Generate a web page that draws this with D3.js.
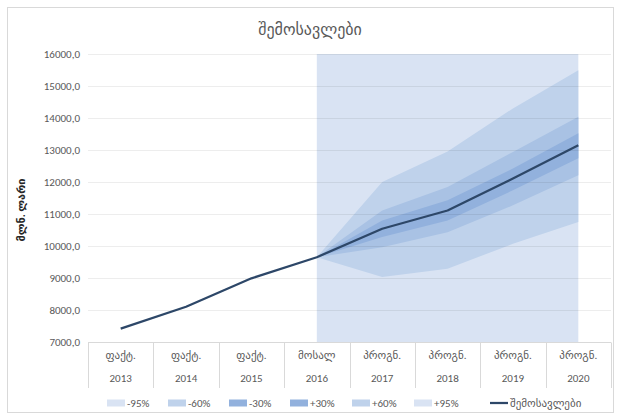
<!DOCTYPE html>
<html>
<head>
<meta charset="utf-8">
<script src="https://cdn.jsdelivr.net/npm/d3@7"></script>
<style>
  body { margin: 0; background: #fff; }
  svg { font-family: Calibri, Carlito, "DejaVu Sans", sans-serif; }
</style>
</head>
<body>
<div id="chart"></div>
<script>
'use strict';

const years = ["2013", "2014", "2015", "2016", "2017", "2018", "2019", "2020"];
const stages = ["ფაქტ.", "ფაქტ.", "ფაქტ.", "მოსალ", "პროგნ.", "პროგნ.", "პროგნ.", "პროგნ."];
const revenue = [7420, 8100, 8990, 9650, 10540, 11110, 12110, 13145];

// fan bounds, 2016 .. 2020
const fanYears = ["2016", "2017", "2018", "2019", "2020"];
const lower95 = [9650, 9030, 9290, 10070, 10750];
const lower60 = [9650, 9960, 10430, 11270, 12210];
const lower30 = [9650, 10280, 10800, 11740, 12740];
const upper30 = [9650, 10800, 11430, 12420, 13520];
const upper60 = [9650, 11110, 11840, 12940, 14040];
const upper95 = [9650, 12000, 12950, 14300, 15490];

const yTicks = [7000, 8000, 9000, 10000, 11000, 12000, 13000, 14000, 15000, 16000];
const legendItems = ["-95%", "-60%", "-30%", "+30%", "+60%", "+95%", "შემოსავლები"];

const width = 618, height = 417;
const margin = {top: 54, right: 7, bottom: 75, left: 88};

const colors = {
    bg: "#d9e3f3",
    b95: "#bfd2eb",
    b60: "#a9c2e4",
    b30: "#92b1dd",
    line: "#2d4768",
    text: "#595959"
};
const legendColors = [colors.bg, colors.b95, colors.b30, colors.b30, colors.b95, colors.bg, colors.line];

const svg = d3.select("#chart").append("svg")
    .attr("width", width)
    .attr("height", height);

// chart border
svg.append("rect")
    .attr("x", 7.5).attr("y", 7.5)
    .attr("width", width - 12).attr("height", height - 12)
    .attr("fill", "#fff")
    .attr("stroke", "#d9d9d9");

const x = d3.scaleBand()
    .domain(years)
    .range([margin.left, width - margin.right])
    .padding(0);
const cx = d => x(d) + x.bandwidth() / 2;

const y = d3.scaleLinear()
    .domain([7000, 16000])
    .range([height - margin.bottom, margin.top]);

// title
svg.append("text")
    .attr("x", 310).attr("y", 35)
    .attr("text-anchor", "middle")
    .attr("font-size", 16)
    .attr("fill", colors.text)
    .text("შემოსავლები");

// y axis title
svg.append("text")
    .attr("transform", `translate(25,${(y(7000) + y(16000)) / 2 + 12}) rotate(-90)`)
    .attr("text-anchor", "middle")
    .attr("font-size", 11)
    .attr("font-weight", "bold")
    .attr("fill", "#262626")
    .text("მლნ. ლარი");

// forecast background
svg.append("rect")
    .attr("x", cx("2016"))
    .attr("y", y(16000))
    .attr("width", cx("2020") - cx("2016"))
    .attr("height", y(7000) - y(16000))
    .attr("fill", colors.bg);

const band = (lo, hi) => d3.area()
    .x((d, i) => cx(fanYears[i]))
    .y0((d, i) => y(lo[i]))
    .y1((d, i) => y(hi[i]))(fanYears);

svg.append("path").attr("d", band(lower95, upper95)).attr("fill", colors.b95);
svg.append("path").attr("d", band(lower60, upper60)).attr("fill", colors.b60);
svg.append("path").attr("d", band(lower30, upper30)).attr("fill", colors.b30);

// gridlines
svg.append("g")
    .selectAll("line")
    .data(yTicks.slice(1))
    .join("line")
    .attr("x1", margin.left).attr("x2", width - margin.right)
    .attr("y1", d => Math.round(y(d)) + 0.5).attr("y2", d => Math.round(y(d)) + 0.5)
    .attr("stroke", "#000")
    .attr("stroke-opacity", 0.07);

// y tick labels
svg.append("g")
    .selectAll("text")
    .data(yTicks)
    .join("text")
    .attr("x", 80)
    .attr("y", d => y(d))
    .attr("dy", "0.35em")
    .attr("text-anchor", "end")
    .attr("font-size", 11)
    .attr("fill", colors.text)
    .text(d => d3.format(".1f")(d).replace(".", ","));

// category axis
const axisY = Math.round(y(7000)) + 0.5;
svg.append("line")
    .attr("x1", margin.left).attr("x2", width - margin.right)
    .attr("y1", axisY).attr("y2", axisY)
    .attr("stroke", "#d9d9d9");

svg.append("g")
    .selectAll("line")
    .data(years.concat(["end"]))
    .join("line")
    .attr("x1", d => Math.round(d === "end" ? width - margin.right : x(d)) + 0.5)
    .attr("x2", d => Math.round(d === "end" ? width - margin.right : x(d)) + 0.5)
    .attr("y1", axisY).attr("y2", 388)
    .attr("stroke", "#d9d9d9");

svg.append("g")
    .selectAll("text")
    .data(years)
    .join("text")
    .attr("x", d => cx(d))
    .attr("y", 359)
    .attr("text-anchor", "middle")
    .attr("font-size", 11)
    .attr("fill", colors.text)
    .text((d, i) => stages[i]);

svg.append("g")
    .selectAll("text")
    .data(years)
    .join("text")
    .attr("x", d => cx(d))
    .attr("y", 382)
    .attr("text-anchor", "middle")
    .attr("font-size", 11)
    .attr("fill", colors.text)
    .text(d => d);

// revenue line
svg.append("path")
    .datum(revenue)
    .attr("fill", "none")
    .attr("stroke", colors.line)
    .attr("stroke-width", 2.25)
    .attr("stroke-linejoin", "round")
    .attr("d", d3.line()
        .x((d, i) => cx(years[i]))
        .y(d => y(d)));

// legend
const legendX = [107, 168, 229, 290, 352, 414, 490];
const legend = svg.append("g")
    .selectAll("g")
    .data(legendItems)
    .join("g")
    .attr("transform", (d, i) => `translate(${legendX[i]},403)`);

legend.each(function (d, i) {
    const g = d3.select(this);
    if (i === legendItems.length - 1) {
        g.append("line")
            .attr("x1", 0).attr("x2", 18)
            .attr("stroke", legendColors[i])
            .attr("stroke-width", 2.25);
    } else {
        g.append("rect")
            .attr("x", 0).attr("y", -3.5)
            .attr("width", 18).attr("height", 7)
            .attr("fill", legendColors[i]);
    }
    g.append("text")
        .attr("x", 20)
        .attr("dy", "0.35em")
        .attr("font-size", 11)
        .attr("fill", colors.text)
        .text(d);
});
</script>
</body>
</html>
